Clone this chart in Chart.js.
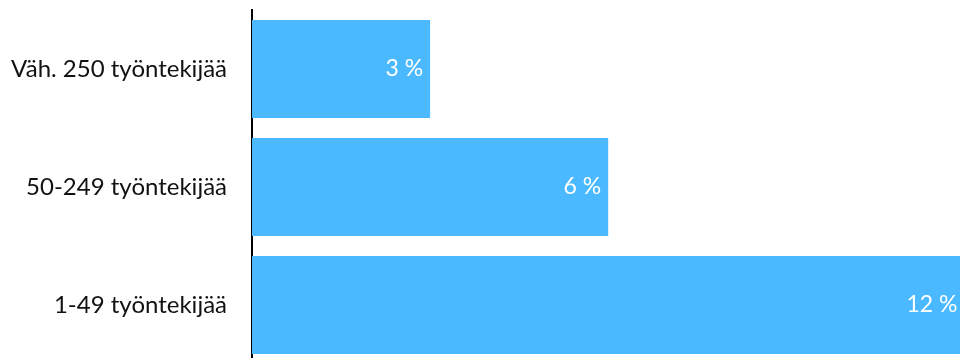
<!DOCTYPE html>
<html lang="fi">
<head>
    <meta charset="UTF-8">
    <title>Yritykset kokoluokittain</title>
    <script src="https://cdn.jsdelivr.net/npm/chart.js"></script>
    <style>
        html, body { margin: 0; padding: 0; background: #fff; overflow: hidden; }
        #wrap { width: 960px; height: 358px; overflow: hidden; }
        canvas { display: block; }
    </style>
</head>
<body>
    <div id="wrap"><canvas id="sizeChart" width="1000" height="364"></canvas></div>

    <script>
        const categories = ["Väh. 250 työntekijää", "50-249 työntekijää", "1-49 työntekijää"];
        const shares = [3, 6, 12];

        const FONT = "Lato, 'Noto Sans', sans-serif";

        // white value labels inside the right end of each bar
        const barLabels = {
            id: "barLabels",
            afterDatasetsDraw(chart) {
                const ctx = chart.ctx;
                const meta = chart.getDatasetMeta(0);
                ctx.save();
                ctx.font = "23px " + FONT;
                ctx.fillStyle = "#ffffff";
                ctx.textAlign = "right";
                ctx.textBaseline = "middle";
                meta.data.forEach((bar, i) => {
                    ctx.fillText(shares[i] + " %", bar.x - 7, bar.y);
                });
                ctx.restore();
            }
        };

        new Chart(document.getElementById("sizeChart"), {
            type: "bar",
            data: {
                labels: categories,
                datasets: [{
                    data: shares,
                    backgroundColor: "#4bb9ff",
                    borderWidth: 0,
                    categoryPercentage: 1,
                    barPercentage: 0.83
                }]
            },
            options: {
                indexAxis: "y",
                responsive: false,
                animation: false,
                layout: { padding: { top: 10, left: 0, right: 0, bottom: 0 } },
                plugins: {
                    legend: { display: false },
                    tooltip: { enabled: false }
                },
                scales: {
                    x: {
                        display: false,
                        min: 0,
                        max: 12.6
                    },
                    y: {
                        afterFit(scale) {
                            scale.width = 252;
                            // label padding should not shrink the plot vertically
                            scale.paddingTop = 0;
                            scale.paddingBottom = 0;
                        },
                        grid: { display: false, drawTicks: false },
                        border: { display: true, color: "#000000", width: 2 },
                        ticks: {
                            color: "#111111",
                            padding: 25,
                            font: { family: FONT, size: 24 }
                        }
                    }
                }
            },
            plugins: [barLabels]
        });
    </script>
</body>
</html>
